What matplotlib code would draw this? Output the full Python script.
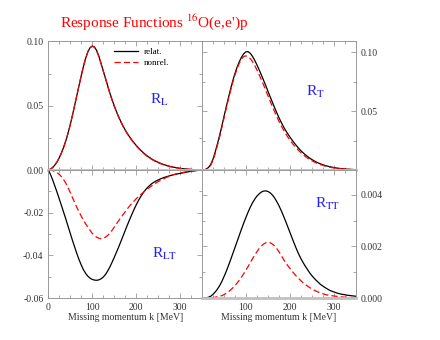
import numpy as np
import matplotlib
matplotlib.use("Agg")
import matplotlib.pyplot as plt
from matplotlib.ticker import MultipleLocator

plt.rcParams['font.family'] = ['Liberation Serif', 'DejaVu Serif']
plt.rcParams['mathtext.fontset'] = 'stix'

# missing momentum grid [MeV], 5 MeV steps
k = np.arange(0, 351, 5)

RL_rel = [0, 0.0007, 0.0020, 0.0040, 0.0065, 0.0097, 0.0135, 0.0180, 0.0230, 0.0290,
          0.0355, 0.0428, 0.0505, 0.0583, 0.0660, 0.0736, 0.0808, 0.0870, 0.0920, 0.0952,
          0.0965, 0.0957, 0.0930, 0.0885, 0.0830, 0.0772, 0.0715, 0.0657, 0.0600, 0.0548,
          0.0500, 0.0456, 0.0415, 0.0378, 0.0343, 0.0312, 0.0284, 0.0258, 0.0234, 0.0212,
          0.0192, 0.0173, 0.0155, 0.0139, 0.0124, 0.0110, 0.0098, 0.0087, 0.0077, 0.0068,
          0.0060, 0.0053, 0.0046, 0.0040, 0.0035, 0.0030, 0.0026, 0.0022, 0.0019, 0.0016,
          0.0013, 0.0011, 0.0009, 0.0007, 0.0006, 0.0004, 0.0003, 0.0002, 0.0001, 0.00005,
          0.0]
RL_non = [0, 0.0007, 0.0020, 0.0040, 0.0065, 0.0097, 0.0135, 0.0180, 0.0230, 0.0290,
          0.0355, 0.0428, 0.0505, 0.0583, 0.0660, 0.0736, 0.0808, 0.0870, 0.0920, 0.0951,
          0.0963, 0.0954, 0.0927, 0.0882, 0.0827, 0.0769, 0.0712, 0.0654, 0.0597, 0.0545,
          0.0497, 0.0453, 0.0412, 0.0375, 0.0340, 0.0309, 0.0281, 0.0255, 0.0231, 0.0209,
          0.0189, 0.0170, 0.0152, 0.0136, 0.0121, 0.0107, 0.0095, 0.0084, 0.0074, 0.0065,
          0.0057, 0.0050, 0.0044, 0.0038, 0.0033, 0.0028, 0.0024, 0.0021, 0.0018, 0.0015,
          0.0012, 0.0010, 0.0008, 0.0007, 0.0005, 0.0004, 0.0003, 0.0002, 0.0001, 0.00005,
          0.0]

RT_rel = [0, 0.0002, 0.0008, 0.0022, 0.0048, 0.0090, 0.0150, 0.0218, 0.0290, 0.0368,
          0.0450, 0.0530, 0.0608, 0.0683, 0.0753, 0.0816, 0.0871, 0.0918, 0.0956, 0.0985,
          0.1002, 0.1004, 0.0990, 0.0965, 0.0932, 0.0894, 0.0853, 0.0810, 0.0765, 0.0719,
          0.0672, 0.0625, 0.0579, 0.0534, 0.0490, 0.0448, 0.0409, 0.0373, 0.0340, 0.0310,
          0.0282, 0.0256, 0.0231, 0.0208, 0.0186, 0.0166, 0.0148, 0.0131, 0.0116, 0.0102,
          0.0090, 0.0079, 0.0069, 0.0060, 0.0052, 0.0045, 0.0039, 0.0034, 0.0029, 0.0025,
          0.0021, 0.0018, 0.0015, 0.0013, 0.0011, 0.0009, 0.0007, 0.0006, 0.0005, 0.0004,
          0.0003]
RT_non = [0, 0.0001, 0.0005, 0.0016, 0.0040, 0.0080, 0.0138, 0.0205, 0.0277, 0.0355,
          0.0437, 0.0517, 0.0595, 0.0670, 0.0740, 0.0803, 0.0858, 0.0905, 0.0940, 0.0962,
          0.0968, 0.0962, 0.0945, 0.0920, 0.0888, 0.0851, 0.0811, 0.0769, 0.0725, 0.0680,
          0.0634, 0.0588, 0.0543, 0.0499, 0.0457, 0.0417, 0.0380, 0.0345, 0.0312, 0.0283,
          0.0256, 0.0231, 0.0208, 0.0187, 0.0167, 0.0149, 0.0132, 0.0117, 0.0103, 0.0091,
          0.0080, 0.0070, 0.0061, 0.0053, 0.0046, 0.0040, 0.0034, 0.0029, 0.0025, 0.0021,
          0.0018, 0.0015, 0.0013, 0.0011, 0.0009, 0.0007, 0.0006, 0.0005, 0.0004, 0.0003,
          0.0002]

RLT_rel = [0, -0.0022, -0.0048, -0.0077, -0.0106, -0.0137, -0.0168, -0.0200, -0.0232, -0.0265,
           -0.0298, -0.0331, -0.0362, -0.0393, -0.0421, -0.0446, -0.0468, -0.0485, -0.0498, -0.0507,
           -0.0513, -0.0516, -0.0517, -0.0515, -0.0510, -0.0502, -0.0490, -0.0474, -0.0455, -0.0433,
           -0.0410, -0.0386, -0.0362, -0.0336, -0.0310, -0.0284, -0.0258, -0.0233, -0.0209, -0.0186,
           -0.0164, -0.0144, -0.0126, -0.0110, -0.0096, -0.0084, -0.0074, -0.0065, -0.0058, -0.0052,
           -0.0047, -0.0042, -0.0038, -0.0034, -0.0031, -0.0028, -0.0025, -0.0022, -0.0020, -0.0018,
           -0.0016, -0.0014, -0.0012, -0.0010, -0.0008, -0.0006, -0.0005, -0.0003, -0.0002, -0.0001,
           0]
RLT_non = [0, -0.0001, -0.0003, -0.0007, -0.0013, -0.0021, -0.0032, -0.0046, -0.0063, -0.0084,
           -0.0106, -0.0130, -0.0153, -0.0176, -0.0197, -0.0217, -0.0236, -0.0253, -0.0268, -0.0283,
           -0.0297, -0.0307, -0.0315, -0.0320, -0.0322, -0.0320, -0.0315, -0.0307, -0.0296, -0.0283,
           -0.0268, -0.0253, -0.0238, -0.0224, -0.0210, -0.0196, -0.0182, -0.0169, -0.0157, -0.0146,
           -0.0135, -0.0125, -0.0116, -0.0107, -0.0098, -0.0090, -0.0082, -0.0075, -0.0068, -0.0061,
           -0.0055, -0.0049, -0.0044, -0.0039, -0.0034, -0.0030, -0.0026, -0.0022, -0.0019, -0.0016,
           -0.0014, -0.0012, -0.0010, -0.0008, -0.0006, -0.0005, -0.0004, -0.0003, -0.0002, -0.0001,
           0]

RTT_rel = [0, 0.0, 0.00001, 0.00003, 0.00007, 0.00014, 0.00023, 0.00034, 0.00047, 0.00063,
           0.00082, 0.00102, 0.00124, 0.00147, 0.00171, 0.00195, 0.00219, 0.00243, 0.00267, 0.00290,
           0.00312, 0.00333, 0.00352, 0.00369, 0.00383, 0.00395, 0.00404, 0.00411, 0.00415, 0.00416,
           0.00414, 0.00409, 0.00401, 0.00390, 0.00376, 0.00360, 0.00342, 0.00322, 0.00301, 0.00279,
           0.00257, 0.00235, 0.00213, 0.00192, 0.00172, 0.00155, 0.00139, 0.00125, 0.00112, 0.00099,
           0.00088, 0.00078, 0.00069, 0.00061, 0.00053, 0.00047, 0.00041, 0.00036, 0.00031, 0.00027,
           0.00024, 0.00021, 0.00018, 0.00016, 0.00014, 0.00013, 0.00011, 0.00010, 0.00009, 0.00008,
           0.00007]
RTT_non = [0, 0, 0, 0.00001, 0.00001, 0.00002, 0.00003, 0.00005, 0.00007, 0.00009,
           0.00013, 0.00018, 0.00024, 0.00031, 0.00039, 0.00048, 0.00058, 0.00069, 0.00081, 0.00094,
           0.00108, 0.00122, 0.00137, 0.00152, 0.00166, 0.00179, 0.00191, 0.00201, 0.00209, 0.00214,
           0.00216, 0.00215, 0.00210, 0.00203, 0.00193, 0.00181, 0.00167, 0.00153, 0.00139, 0.00127,
           0.00116, 0.00105, 0.00095, 0.00085, 0.00076, 0.00068, 0.00060, 0.00053, 0.00047, 0.00041,
           0.00036, 0.00031, 0.00027, 0.00023, 0.00020, 0.00017, 0.00014, 0.00012, 0.00010, 0.00009,
           0.00008, 0.00007, 0.00006, 0.00005, 0.00004, 0.00003, 0.00003, 0.00002, 0.00002, 0.00001,
           0.00001]

grey = '#999999'
fig = plt.figure(figsize=(4.4, 3.4), dpi=100)

W = 0.349
axL = fig.add_axes([0.110, 0.5, W, 0.378])
axT = fig.add_axes([0.110 + W, 0.5, W, 0.378])
axLT = fig.add_axes([0.110, 0.1235, W, 0.3765])
axTT = fig.add_axes([0.110 + W, 0.1235, W, 0.3765])

panels = [
    (axL, RL_rel, RL_non, (0, 0.10), 0.05, 0.025, r'R$_\mathrm{L}$', (0.663, 0.545)),
    (axT, RT_rel, RT_non, (0, 0.109), 0.05, 0.025, r'R$_\mathrm{T}$', (0.677, 0.607)),
    (axLT, RLT_rel, RLT_non, (-0.06, 0), 0.02, 0.01, r'R$_\mathrm{LT}$', (0.676, 0.344)),
    (axTT, RTT_rel, RTT_non, (0, 0.00497), 0.002, 0.001, r'R$_\mathrm{TT}$', (0.735, 0.734)),
]

for ax, rel, non, ylim, major, minor, lab, pos in panels:
    ax.plot(k, rel, color='black', lw=0.9, label='relat.')
    ax.plot(k, non, color='red', lw=0.9, ls=(0, (5, 2.5)), label='nonrel.')
    ax.set_xlim(0, 350)
    ax.set_ylim(*ylim)
    ax.xaxis.set_major_locator(MultipleLocator(100))
    ax.xaxis.set_minor_locator(MultipleLocator(25))
    ax.yaxis.set_major_locator(MultipleLocator(major))
    ax.yaxis.set_minor_locator(MultipleLocator(minor))
    ax.tick_params(which='both', direction='in', colors=grey, labelcolor='#333333',
                   labelsize=7, top=True, bottom=True, left=True, right=True)
    ax.tick_params(which='major', length=3.5, width=0.6)
    ax.tick_params(which='minor', length=2, width=0.6)
    for s in ax.spines.values():
        s.set_color(grey)
        s.set_linewidth(0.7)
    ax.text(pos[0], pos[1], lab, transform=ax.transAxes, color='#2222ff',
            fontsize=11, va='center', ha='left')

# shared zero line between the rows and the lower right baseline
for ax in (axL, axT, axTT):
    ax.spines['bottom'].set_color('#c0c0c0')
    ax.spines['bottom'].set_linewidth(2.0)

axL.tick_params(labelbottom=False)
axT.tick_params(labelbottom=False, labelleft=False, labelright=True)
axT.set_yticks([0.05, 0.10])
axT.yaxis.set_major_formatter(plt.FormatStrFormatter('%.2f'))
axL.set_yticks([0.0, 0.05, 0.10])
axL.yaxis.set_major_formatter(plt.FormatStrFormatter('%.2f'))
axLT.set_yticks([-0.06, -0.04, -0.02])
axLT.yaxis.set_major_formatter(plt.FormatStrFormatter('%.2f'))
axLT.set_xticks([0, 100, 200, 300])
axTT.tick_params(labelleft=False, labelright=True)
axTT.set_yticks([0.0, 0.002, 0.004])
axTT.yaxis.set_major_formatter(plt.FormatStrFormatter('%.3f'))
axTT.set_xticks([100, 200, 300])

for ax in (axLT, axTT):
    ax.set_xlabel('Missing momentum k [MeV]', fontsize=7, color='#333333', labelpad=1)

axL.legend(loc='upper left', bbox_to_anchor=(0.43, 0.95), frameon=False, fontsize=6.5,
           handlelength=2.6, handletextpad=0.6, borderpad=0, borderaxespad=0,
           labelspacing=0.3)

fig.text(0.35, 0.935, "Response Functions $^{16}$O(e,e')p", color='red',
         fontsize=11, ha='center', va='center')

fig.savefig('out.png', dpi=100)
